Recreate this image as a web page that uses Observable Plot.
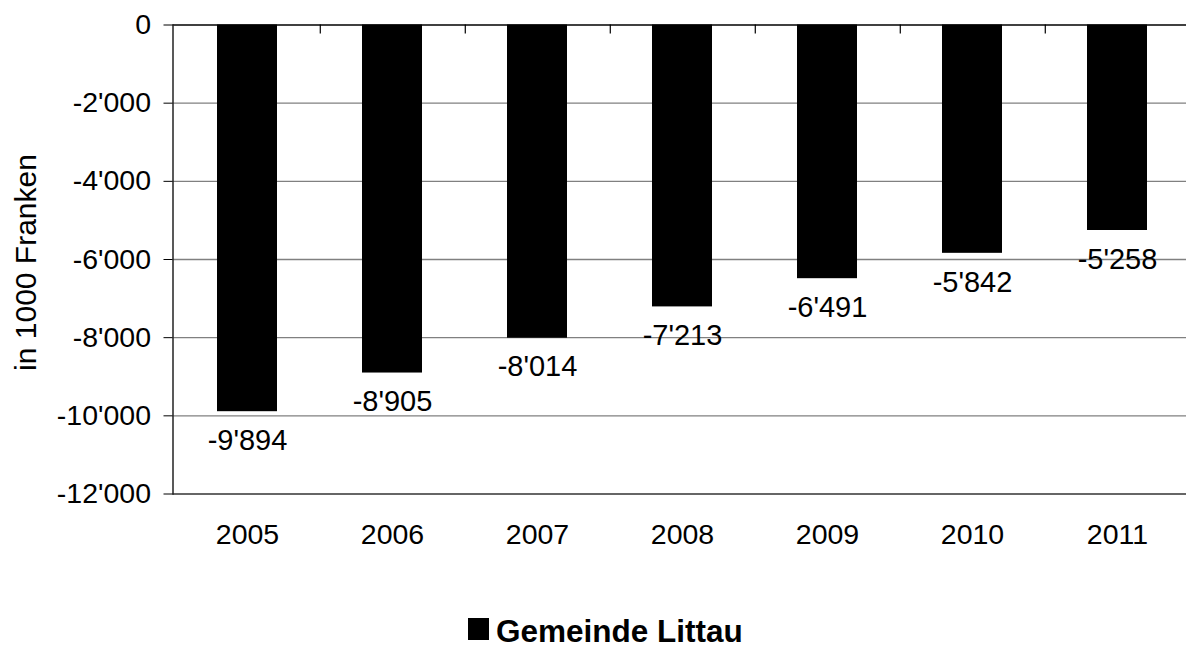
<!DOCTYPE html>
<html>
<head>
<meta charset="utf-8">
<script src="https://cdn.jsdelivr.net/npm/d3@7"></script>
<script src="https://cdn.jsdelivr.net/npm/@observablehq/plot@0.6"></script>
<style>
  html, body { margin: 0; padding: 0; background: #fff; overflow: hidden; }
  #chart svg { display: block; }
  #legend { position: relative; width: 1186px; height: 50px; font-family: "Liberation Sans", Arial, sans-serif; }
  #legend .sw { position: absolute; left: 468px; top: 18px; width: 21px; height: 22px; background: #000; }
  #legend .lt { position: absolute; left: 496px; top: 17.5px; font-size: 31.5px; font-weight: bold; line-height: 26px; color: #000; white-space: nowrap; }
</style>
</head>
<body>
<div id="chart"></div>
<div id="legend"><span class="sw"></span><span class="lt"></span></div>
<script>
// ---- data ----
const years = ["2005", "2006", "2007", "2008", "2009", "2010", "2011"];
const values = [-9894, -8905, -8014, -7213, -6491, -5842, -5258];
const yTicks = [0, -2000, -4000, -6000, -8000, -10000, -12000];
const seriesName = "Gemeinde Littau";
const yLabel = "in 1000 Franken";

// ---- formatting ----
const locale = d3.formatLocale({decimal: ".", thousands: "'", grouping: [3], currency: ["", ""], minus: "-"});
const fmt = locale.format(",d");
const data = years.map((year, i) => ({year, value: values[i]}));

const W = 1186, H = 600;
const left = 172.5, right = 1191.5;
const bandStep = (right - left) / years.length;
const font = "Liberation Sans, Arial, sans-serif";

const chart = Plot.plot({
  width: W,
  height: H,
  marginTop: 24.5,
  marginBottom: 106.5,
  marginLeft: left,
  marginRight: 0,
  style: {fontFamily: font, fontSize: "28.5px", color: "#000", background: "#fff"},
  x: {type: "band", domain: years, range: [left, right], paddingInner: 0.583, paddingOuter: 0.2915},
  y: {domain: [-12000, 0]},
  marks: [
    Plot.ruleY(yTicks.slice(1, -1), {stroke: "#808080", strokeWidth: 1.3}),
    Plot.ruleY([-12000], {stroke: "#333", strokeWidth: 1.5}),
    Plot.barY(data, {x: "year", y: "value", fill: "#000"}),
    Plot.text(data, {x: "year", y: "value", text: d => fmt(d.value), dy: 29, fontSize: 29, lineAnchor: "middle", fill: "#000", ariaLabel: "value-labels"}),
    Plot.ruleY([0], {stroke: "#000", strokeWidth: 1.5}),
    Plot.frame({anchor: "left", stroke: "#222", strokeWidth: 1.5}),
    Plot.ruleX(years.slice(0, -1), {x: d => d, dx: bandStep / 2, y1: 0, y2: -230, stroke: "#000", strokeWidth: 1.2}),
    Plot.axisY({ticks: yTicks, tickSize: 9, tickPadding: 13, tickFormat: fmt, fontSize: 28.5, label: null}),
    Plot.axisX({anchor: "bottom", tickSize: 0, tickPadding: 30, fontSize: 28.5, label: null}),
    Plot.text([yLabel], {frameAnchor: "left", text: d => d, rotate: -90, dx: -147, dy: 3, fontSize: 30, textAnchor: "middle", lineAnchor: "middle", fill: "#000"})
  ]
});

document.getElementById("chart").append(chart);

// white label boxes behind the value labels
const g = chart.querySelector('g[aria-label="value-labels"]');
if (g) {
  g.querySelectorAll("text").forEach(t => {
    const b = t.getBBox();
    const em = 29;
    const capCenter = b.y + 0.547 * em;
    const r = document.createElementNS("http://www.w3.org/2000/svg", "rect");
    r.setAttribute("x", b.x - 4.5);
    r.setAttribute("width", b.width + 9);
    r.setAttribute("y", capCenter - 22.5);
    r.setAttribute("height", 45);
    r.setAttribute("fill", "#fff");
    const tr = t.getAttribute("transform");
    if (tr) r.setAttribute("transform", tr);
    g.insertBefore(r, t);
  });
}

document.querySelector("#legend .lt").textContent = seriesName;
</script>
</body>
</html>
